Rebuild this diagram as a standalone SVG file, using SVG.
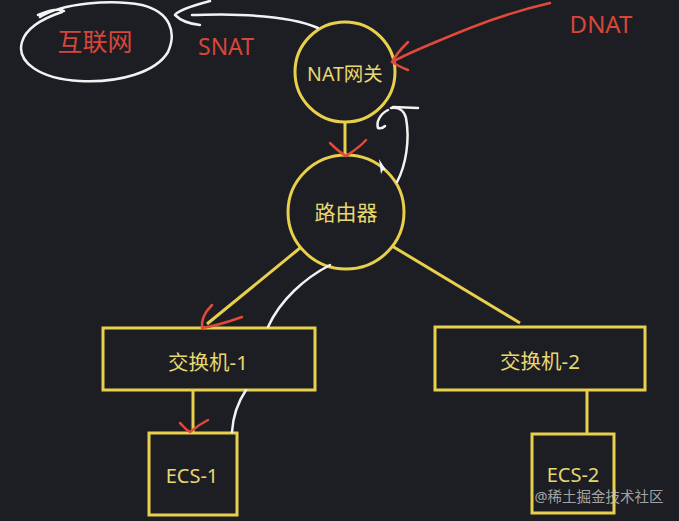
<svg xmlns="http://www.w3.org/2000/svg" width="679" height="521" viewBox="0 0 679 521">
<style>
.node{fill:none;stroke:#e8d04c;stroke-width:3}
.edge{fill:none;stroke:#e8d04c;stroke-width:3}
.ylab{fill:#e8d870;font-family:"Noto Sans","Noto Sans CJK SC",sans-serif;text-anchor:middle}
.rlab{fill:#d8453a;font-family:"Noto Sans","Noto Sans CJK SC",sans-serif;text-anchor:middle}
.red{fill:none;stroke:#e04a3a;stroke-width:2.5;stroke-linecap:round;stroke-linejoin:round}
.white{fill:none;stroke:#f2f2f2;stroke-width:2.5;stroke-linecap:round;stroke-linejoin:round}
</style>
<rect width="679" height="521" fill="#1d1e23"/>
<g id="connectors">
<line class="edge" x1="345" y1="122" x2="345" y2="154"/>
<line class="edge" x1="300" y1="248" x2="207" y2="324"/>
<line class="edge" x1="392" y1="246" x2="520" y2="323"/>
<line class="edge" x1="193" y1="390" x2="193" y2="433"/>
<line class="edge" x1="587" y1="390" x2="587" y2="434"/>
</g>
<g id="nat">
<circle class="node" cx="345" cy="72" r="50"/>
<text class="ylab" x="345" y="81" font-size="19.5">NAT网关</text>
</g>
<g id="router">
<ellipse class="node" cx="346" cy="212" rx="58" ry="57"/>
<text class="ylab" x="346" y="220" font-size="21">路由器</text>
</g>
<g id="switch1">
<rect class="node" x="103" y="328" width="212" height="62"/>
<text class="ylab" x="208" y="370" font-size="20.5">交换机-1</text>
</g>
<g id="switch2">
<rect class="node" x="435" y="327" width="210" height="63"/>
<text class="ylab" x="540" y="369" font-size="20.5">交换机-2</text>
</g>
<g id="ecs1">
<rect class="node" x="149" y="433" width="88" height="82"/>
<text class="ylab" x="192" y="483" font-size="20">ECS-1</text>
</g>
<g id="ecs2">
<rect class="node" x="532" y="434" width="82" height="79"/>
<text class="ylab" x="573" y="482" font-size="20">ECS-2</text>
</g>
<g id="annotations">
<path class="white" d="M38,15 C50,10 58,8 64,11 M40,17 C62,3 112,-1 142,5 C170,12 177,32 168,52 C156,72 120,83 80,81 C40,79 16,62 22,42 C26,28 44,18 62,12"/>
<text class="rlab" x="95" y="51" font-size="25">互联网</text>
<path class="white" d="M318,28 C300,20 270,16 240,15 C220,14 205,15 192,15"/>
<path class="white" d="M210,1 C195,5 178,10 175,15 C180,20 190,24 200,25"/>
<text class="rlab" x="226" y="55" font-size="23">SNAT</text>
<path class="red" d="M550,3 C520,10 490,20 470,28 C440,40 410,52 392,62"/>
<path class="red" d="M408,42 C400,50 395,56 392,62 C398,66 403,68 408,70"/>
<text class="rlab" x="601" y="33" font-size="24">DNAT</text>
<path class="red" d="M330,143 C336,149 341,153 346,156 C352,152 360,147 366,140"/>
<path class="red" d="M212,305 C205,312 201,320 202,328 C215,326 228,322 242,317"/>
<path class="red" d="M180,423 C184,427 186,430 190,432 C196,427 202,423 208,420"/>
<path class="white" d="M397,182 C406,165 410,140 406,118 C404,110 398,107 391,108"/>
<path class="white" d="M393,107 L418,108"/>
<path class="white" d="M388,110 C380,114 376,122 378,128 C381,129 384,127 385,126"/>
<path d="M379,159 L386,170 L383,170 L381,174 Z" fill="#f2f2f2"/>
<path class="white" d="M330,265 C305,278 280,300 268,327"/>
<path class="white" d="M246,390 C238,402 233,415 232,432"/>
<text x="599" y="502" font-size="14.5" fill="#c8c8c8" fill-opacity="0.8" text-anchor="middle" font-family="'Noto Sans','Noto Sans CJK SC',sans-serif">@稀土掘金技术社区</text>
</g>
</svg>
